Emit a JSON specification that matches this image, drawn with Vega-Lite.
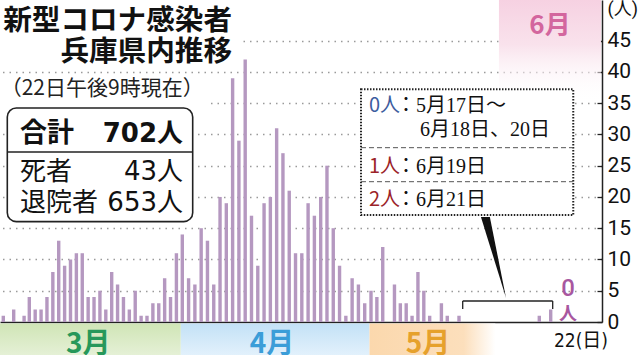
{
  "$schema": "https://vega.github.io/schema/vega-lite/v6.json",
  "width": 602,
  "height": 322,
  "autosize": {"type": "none"},
  "padding": {"left": 0, "top": 0, "right": 37, "bottom": 33},
  "background": "white",
  "config": {"view": {"stroke": null}, "font": "Noto Sans CJK JP"},
  "datasets": {
    "daily": [
      {"date": "2020-03-01", "cases": 1}, {"date": "2020-03-02", "cases": 0}, {"date": "2020-03-03", "cases": 2}, {"date": "2020-03-04", "cases": 0},
      {"date": "2020-03-05", "cases": 1}, {"date": "2020-03-06", "cases": 4}, {"date": "2020-03-07", "cases": 2}, {"date": "2020-03-08", "cases": 2},
      {"date": "2020-03-09", "cases": 4}, {"date": "2020-03-10", "cases": 8}, {"date": "2020-03-11", "cases": 13}, {"date": "2020-03-12", "cases": 9},
      {"date": "2020-03-13", "cases": 10}, {"date": "2020-03-14", "cases": 11}, {"date": "2020-03-15", "cases": 11}, {"date": "2020-03-16", "cases": 4},
      {"date": "2020-03-17", "cases": 4}, {"date": "2020-03-18", "cases": 5}, {"date": "2020-03-19", "cases": 2}, {"date": "2020-03-20", "cases": 8},
      {"date": "2020-03-21", "cases": 6}, {"date": "2020-03-22", "cases": 4}, {"date": "2020-03-23", "cases": 2}, {"date": "2020-03-24", "cases": 5},
      {"date": "2020-03-25", "cases": 1}, {"date": "2020-03-26", "cases": 1}, {"date": "2020-03-27", "cases": 3}, {"date": "2020-03-28", "cases": 3},
      {"date": "2020-03-29", "cases": 7}, {"date": "2020-03-30", "cases": 4}, {"date": "2020-03-31", "cases": 11},
      {"date": "2020-04-01", "cases": 14}, {"date": "2020-04-02", "cases": 7}, {"date": "2020-04-03", "cases": 6}, {"date": "2020-04-04", "cases": 15},
      {"date": "2020-04-05", "cases": 13}, {"date": "2020-04-06", "cases": 6}, {"date": "2020-04-07", "cases": 20}, {"date": "2020-04-08", "cases": 19},
      {"date": "2020-04-09", "cases": 39}, {"date": "2020-04-10", "cases": 29}, {"date": "2020-04-11", "cases": 42}, {"date": "2020-04-12", "cases": 17},
      {"date": "2020-04-13", "cases": 9}, {"date": "2020-04-14", "cases": 19}, {"date": "2020-04-15", "cases": 20}, {"date": "2020-04-16", "cases": 31},
      {"date": "2020-04-17", "cases": 27}, {"date": "2020-04-18", "cases": 21}, {"date": "2020-04-19", "cases": 11}, {"date": "2020-04-20", "cases": 11},
      {"date": "2020-04-21", "cases": 19}, {"date": "2020-04-22", "cases": 17}, {"date": "2020-04-23", "cases": 20}, {"date": "2020-04-24", "cases": 25},
      {"date": "2020-04-25", "cases": 15}, {"date": "2020-04-26", "cases": 9}, {"date": "2020-04-27", "cases": 1}, {"date": "2020-04-28", "cases": 7},
      {"date": "2020-04-29", "cases": 6}, {"date": "2020-04-30", "cases": 3},
      {"date": "2020-05-01", "cases": 5}, {"date": "2020-05-02", "cases": 4}, {"date": "2020-05-03", "cases": 12}, {"date": "2020-05-04", "cases": 0},
      {"date": "2020-05-05", "cases": 6}, {"date": "2020-05-06", "cases": 3}, {"date": "2020-05-07", "cases": 3}, {"date": "2020-05-08", "cases": 1},
      {"date": "2020-05-09", "cases": 8}, {"date": "2020-05-10", "cases": 5}, {"date": "2020-05-11", "cases": 1}, {"date": "2020-05-12", "cases": 0},
      {"date": "2020-05-13", "cases": 3}, {"date": "2020-05-14", "cases": 1}, {"date": "2020-05-15", "cases": 0}, {"date": "2020-05-16", "cases": 1},
      {"date": "2020-05-17", "cases": 0}, {"date": "2020-05-18", "cases": 0}, {"date": "2020-05-19", "cases": 0}, {"date": "2020-05-20", "cases": 0},
      {"date": "2020-05-21", "cases": 0}, {"date": "2020-05-22", "cases": 0}, {"date": "2020-05-23", "cases": 0}, {"date": "2020-05-24", "cases": 0},
      {"date": "2020-05-25", "cases": 0}, {"date": "2020-05-26", "cases": 0}, {"date": "2020-05-27", "cases": 0}, {"date": "2020-05-28", "cases": 0},
      {"date": "2020-05-29", "cases": 0}, {"date": "2020-05-30", "cases": 0}, {"date": "2020-05-31", "cases": 0},
      {"date": "2020-06-01", "cases": 0}, {"date": "2020-06-02", "cases": 0}, {"date": "2020-06-03", "cases": 0}, {"date": "2020-06-04", "cases": 0},
      {"date": "2020-06-05", "cases": 0}, {"date": "2020-06-06", "cases": 0}, {"date": "2020-06-07", "cases": 0}, {"date": "2020-06-08", "cases": 0},
      {"date": "2020-06-09", "cases": 0}, {"date": "2020-06-10", "cases": 0}, {"date": "2020-06-11", "cases": 0}, {"date": "2020-06-12", "cases": 0},
      {"date": "2020-06-13", "cases": 0}, {"date": "2020-06-14", "cases": 0}, {"date": "2020-06-15", "cases": 0}, {"date": "2020-06-16", "cases": 0},
      {"date": "2020-06-17", "cases": 0}, {"date": "2020-06-18", "cases": 0}, {"date": "2020-06-19", "cases": 1}, {"date": "2020-06-20", "cases": 0},
      {"date": "2020-06-21", "cases": 2}, {"date": "2020-06-22", "cases": 0}
    ],
    "months": [
      {"month": "3月", "start": "2020-02-20", "end": "2020-04-01", "mid": "2020-03-16T00:00:00Z"},
      {"month": "4月", "start": "2020-04-01", "end": "2020-05-01", "mid": "2020-04-15T06:00:00Z"},
      {"month": "5月", "start": "2020-05-01", "end": "2020-06-01", "mid": "2020-05-10T17:00:00Z"}
    ]
  },
  "layer": [
    {
      "data": {"name": "daily"},
      "mark": {"type": "bar", "size": 3.4, "color": "#b598c0"},
      "encoding": {
        "x": {
          "field": "date", "type": "temporal",
          "scale": {"type": "utc", "nice": false, "padding": 0,
            "domain": {"expr": "[utc(2020,1,29,8,46), utc(2020,2,1), utc(2020,2,6), utc(2020,3,1), utc(2020,4,1), utc(2020,4,16), utc(2020,5,19), utc(2020,5,22), utc(2020,5,30)]"},
            "range": [0, 3.3, 29.3, 182.3, 371, 459, 539.3, 556.4, 602]},
          "axis": {
            "title": null,
            "values": [{"year": 2020, "month": 6, "date": 22, "utc": true}],
            "labelExpr": "'22(日)'",
            "ticks": false, "grid": false,
            "domainColor": "#222", "domainWidth": 1.6,
            "labelFont": "DejaVu Sans Condensed, Liberation Sans Narrow, Roboto, Noto Sans CJK JP",
            "labelFontSize": 19, "labelColor": "#111", "labelOffset": -3,
            "labelAlign": "left", "labelBaseline": "top", "labelPadding": 9,
            "labelFlush": false, "labelOverlap": false
          }
        },
        "y": {
          "field": "cases", "type": "quantitative",
          "scale": {"domain": [0, 51.5], "nice": false},
          "axis": {
            "title": null, "orient": "right",
            "values": [0, 5, 10, 15, 20, 25, 30, 35, 40, 45, 50],
            "tickCount": 30,
            "labelExpr": "datum.value == 50 ? '(人)' : datum.label",
            "domainColor": "#222", "domainWidth": 1.5,
            "tickColor": "#222", "tickSize": -5, "tickWidth": 1.3,
            "tickOpacity": {"condition": {"test": "datum.value == 50", "value": 0}, "value": 1},
            "grid": true, "gridColor": "#9a9a9a", "gridDash": [1.5, 5], "gridWidth": 1.4,
            "gridOpacity": {"condition": {"test": "datum.value == 0 || datum.value == 50", "value": 0}, "value": 1},
            "labelFont": "Roboto, Noto Sans CJK JP",
            "labelFontSize": {"condition": {"test": "datum.value == 50", "value": 18}, "value": 21},
            "labelColor": "#111",
            "labelPadding": 10, "labelAlign": "left", "labelOverlap": false
          }
        }
      }
    },
    {
      "data": {"name": "months"},
      "transform": [{"filter": "datum.month == '3月'"}],
      "mark": {"type": "rect", "xOffset": -1.5, "x2Offset": -1.5,
        "fill": {"gradient": "linear", "x1": 0, "y1": 0, "x2": 0, "y2": 1, "stops": [{"offset": 0, "color": "#d0e5b6"}, {"offset": 1, "color": "#e6f1d8"}]}},
      "encoding": {
        "x": {"field": "start", "type": "temporal"},
        "x2": {"field": "end"},
        "y": {"datum": -0.25, "type": "quantitative"},
        "y2": {"datum": -5.6}
      }
    },
    {
      "data": {"name": "months"},
      "transform": [{"filter": "datum.month == '4月'"}],
      "mark": {"type": "rect", "xOffset": -1.5, "x2Offset": -1.5,
        "fill": {"gradient": "linear", "x1": 0, "y1": 0, "x2": 0, "y2": 1, "stops": [{"offset": 0, "color": "#c3e1f6"}, {"offset": 1, "color": "#e4f2fc"}]}},
      "encoding": {
        "x": {"field": "start", "type": "temporal"},
        "x2": {"field": "end"},
        "y": {"datum": -0.25, "type": "quantitative"},
        "y2": {"datum": -5.6}
      }
    },
    {
      "data": {"name": "months"},
      "transform": [{"filter": "datum.month == '5月'"}],
      "mark": {"type": "rect", "xOffset": -1.5, "x2Offset": -1.5,
        "fill": {"gradient": "linear", "x1": 0, "y1": 0, "x2": 1, "y2": 0, "stops": [{"offset": 0, "color": "#fbd8ad"}, {"offset": 0.75, "color": "#fcdfbc"}, {"offset": 1, "color": "#ffffff"}]}},
      "encoding": {
        "x": {"field": "start", "type": "temporal"},
        "x2": {"field": "end"},
        "y": {"datum": -0.25, "type": "quantitative"},
        "y2": {"datum": -5.6}
      }
    },
    {
      "data": {"name": "months"},
      "mark": {"type": "text", "fontSize": 28, "fontWeight": "bold", "font": "Noto Sans CJK JP", "align": "center", "baseline": "middle"},
      "encoding": {
        "x": {"field": "mid", "type": "temporal"},
        "y": {"datum": -3.7, "type": "quantitative"},
        "text": {"field": "month"},
        "color": {"field": "month", "type": "nominal", "scale": {"domain": ["3月", "4月", "5月"], "range": ["#27985a", "#3b9dd8", "#e6a12c"]}, "legend": null}
      }
    },
    {
      "data": {"values": [{}]},
      "mark": {"type": "rect",
        "fill": {"gradient": "linear", "x1": 0, "y1": 0, "x2": 0, "y2": 1, "stops": [{"offset": 0, "color": "#f6d0e1"}, {"offset": 0.45, "color": "#f9e2ec"}, {"offset": 1, "color": "rgba(255,255,255,0)"}]}},
      "encoding": {
        "x": {"datum": {"year": 2020, "month": 6, "date": 1, "hours": 22, "utc": true}, "type": "temporal"},
        "x2": {"datum": {"year": 2020, "month": 6, "date": 29, "hours": 19, "minutes": 40, "utc": true}},
        "y": {"datum": 52, "type": "quantitative"},
        "y2": {"datum": 35}
      }
    },
    {
      "data": {"values": [{}]},
      "mark": {"type": "rect", "fill": "white"},
      "encoding": {
        "x": {"datum": {"year": 2020, "month": 2, "date": 20, "utc": true}, "type": "temporal"},
        "x2": {"datum": {"year": 2020, "month": 4, "date": 10, "hours": 4, "utc": true}},
        "y": {"datum": 52, "type": "quantitative"},
        "y2": {"datum": 41.6}
      }
    },
    {
      "data": {"values": [{}]},
      "mark": {"type": "rect", "fill": "white"},
      "encoding": {
        "x": {"datum": {"year": 2020, "month": 2, "date": 20, "utc": true}, "type": "temporal"},
        "x2": {"datum": {"year": 2020, "month": 4, "date": 5, "hours": 2, "minutes": 10, "utc": true}},
        "y": {"datum": 39.6, "type": "quantitative"},
        "y2": {"datum": 34.4}
      }
    },
    {
      "data": {"values": [{}]},
      "mark": {"type": "text", "fontSize": 28.6, "fontWeight": "bold", "font": "Noto Sans CJK JP", "align": "right", "baseline": "middle", "lineHeight": 31.5, "color": "#111"},
      "encoding": {
        "x": {"datum": {"year": 2020, "month": 4, "date": 8, "hours": 21, "minutes": 40, "utc": true}, "type": "temporal"},
        "y": {"datum": 48.22, "type": "quantitative"},
        "text": {"value": ["新型コロナ感染者", "兵庫県内推移"]}
      }
    },
    {
      "data": {"values": [{}]},
      "mark": {"type": "text", "fontSize": 21, "font": "Noto Sans CJK JP", "align": "left", "baseline": "middle", "color": "#222"},
      "encoding": {
        "x": {"datum": {"year": 2020, "month": 2, "date": 29, "hours": 12, "utc": true}, "type": "temporal"},
        "y": {"datum": 37.19, "type": "quantitative"},
        "text": {"value": "（22日午後9時現在）"}
      }
    },
    {
      "data": {"values": [{}]},
      "mark": {"type": "rect", "fill": "white", "stroke": "#222", "strokeWidth": 1.6, "cornerRadius": 9},
      "encoding": {
        "x": {"datum": {"year": 2020, "month": 3, "date": 1, "hours": 18, "minutes": 28, "utc": true}, "type": "temporal"},
        "x2": {"datum": {"year": 2020, "month": 4, "date": 2, "hours": 15, "minutes": 40, "utc": true}},
        "y": {"datum": 34.23, "type": "quantitative"},
        "y2": {"datum": 16.05}
      }
    },
    {
      "data": {"values": [{}]},
      "mark": {"type": "rule", "stroke": "#222", "strokeWidth": 1.4},
      "encoding": {
        "x": {"datum": {"year": 2020, "month": 3, "date": 1, "hours": 18, "minutes": 28, "utc": true}, "type": "temporal"},
        "x2": {"datum": {"year": 2020, "month": 4, "date": 2, "hours": 15, "minutes": 40, "utc": true}},
        "y": {"datum": 27.19, "type": "quantitative"}
      }
    },
    {
      "data": {"values": [{}]},
      "mark": {"type": "text", "fontSize": 27, "fontWeight": "bold", "font": "Noto Sans CJK JP", "align": "left", "baseline": "middle", "color": "#111"},
      "encoding": {
        "x": {"datum": {"year": 2020, "month": 3, "date": 4, "hours": 5, "utc": true}, "type": "temporal"},
        "y": {"datum": 29.99, "type": "quantitative"},
        "text": {"value": "合計"}
      }
    },
    {
      "data": {"values": [{}]},
      "mark": {"type": "text", "fontSize": 26, "fontWeight": "bold", "font": "DejaVu Sans, Noto Sans CJK JP", "align": "right", "baseline": "middle", "color": "#111"},
      "encoding": {
        "x": {"datum": {"year": 2020, "month": 4, "date": 1, "hours": 2, "minutes": 40, "utc": true}, "type": "temporal"},
        "y": {"datum": 29.99, "type": "quantitative"},
        "text": {"value": "702人"}
      }
    },
    {
      "data": {"values": [{}]},
      "mark": {"type": "text", "fontSize": 26, "font": "Noto Sans CJK JP", "align": "left", "baseline": "middle", "lineHeight": 31, "color": "#111"},
      "encoding": {
        "x": {"datum": {"year": 2020, "month": 3, "date": 4, "hours": 5, "utc": true}, "type": "temporal"},
        "y": {"datum": 23.99, "type": "quantitative"},
        "text": {"value": ["死者", "退院者"]}
      }
    },
    {
      "data": {"values": [{}]},
      "mark": {"type": "text", "fontSize": 26, "font": "DejaVu Sans, Noto Sans CJK JP", "align": "right", "baseline": "middle", "lineHeight": 31, "color": "#111"},
      "encoding": {
        "x": {"datum": {"year": 2020, "month": 4, "date": 1, "hours": 2, "minutes": 40, "utc": true}, "type": "temporal"},
        "y": {"datum": 23.99, "type": "quantitative"},
        "text": {"value": ["43人", "653人"]}
      }
    },
    {
      "data": {"values": [{}]},
      "mark": {"type": "rect", "fill": "white", "stroke": "#222", "strokeWidth": 2, "strokeDash": [1.5, 1.5]},
      "encoding": {
        "x": {"datum": {"year": 2020, "month": 4, "date": 29, "hours": 9, "minutes": 50, "utc": true}, "type": "temporal"},
        "x2": {"datum": {"year": 2020, "month": 6, "date": 24, "hours": 23, "utc": true}},
        "y": {"datum": 37.22, "type": "quantitative"},
        "y2": {"datum": 17.11}
      }
    },
    {
      "data": {"values": [{"y": 27.88}, {"y": 22.44}]},
      "mark": {"type": "rule", "stroke": "#555", "strokeWidth": 1, "strokeDash": [5, 3]},
      "encoding": {
        "x": {"datum": {"year": 2020, "month": 4, "date": 29, "hours": 9, "minutes": 50, "utc": true}, "type": "temporal"},
        "x2": {"datum": {"year": 2020, "month": 6, "date": 24, "hours": 23, "utc": true}},
        "y": {"field": "y", "type": "quantitative"}
      }
    },
    {
      "data": {"values": [{}]},
      "mark": {"type": "text", "fontSize": 20, "font": "Noto Sans CJK JP", "align": "left", "baseline": "middle", "color": "#3d5c9e"},
      "encoding": {
        "x": {"datum": {"year": 2020, "month": 4, "date": 30, "hours": 16, "minutes": 20, "utc": true}, "type": "temporal"},
        "y": {"datum": 34.47, "type": "quantitative"},
        "text": {"value": "0人"}
      }
    },
    {
      "data": {"values": [{}]},
      "mark": {"type": "text", "fontSize": 20, "font": "Noto Sans CJK JP", "align": "left", "baseline": "middle", "lineHeight": 33, "color": "#9b2328"},
      "encoding": {
        "x": {"datum": {"year": 2020, "month": 4, "date": 30, "hours": 16, "minutes": 20, "utc": true}, "type": "temporal"},
        "y": {"datum": 24.87, "type": "quantitative"},
        "text": {"value": ["1人", "2人"]}
      }
    },
    {
      "data": {"values": [{}]},
      "mark": {"type": "text", "fontSize": 20, "font": "Liberation Serif, Noto Sans CJK JP", "align": "left", "baseline": "middle", "color": "#111"},
      "encoding": {
        "x": {"datum": {"year": 2020, "month": 5, "date": 5, "hours": 6, "minutes": 15, "utc": true}, "type": "temporal"},
        "y": {"datum": 34.47, "type": "quantitative"},
        "text": {"value": "：5月17日～"}
      }
    },
    {
      "data": {"values": [{}]},
      "mark": {"type": "text", "fontSize": 20, "font": "Liberation Serif, Noto Sans CJK JP", "align": "left", "baseline": "middle", "color": "#111"},
      "encoding": {
        "x": {"datum": {"year": 2020, "month": 5, "date": 9, "hours": 8, "minutes": 25, "utc": true}, "type": "temporal"},
        "y": {"datum": 30.63, "type": "quantitative"},
        "text": {"value": "6月18日、20日"}
      }
    },
    {
      "data": {"values": [{}]},
      "mark": {"type": "text", "fontSize": 20, "font": "Liberation Serif, Noto Sans CJK JP", "align": "left", "baseline": "middle", "lineHeight": 33, "color": "#111"},
      "encoding": {
        "x": {"datum": {"year": 2020, "month": 5, "date": 5, "hours": 6, "minutes": 15, "utc": true}, "type": "temporal"},
        "y": {"datum": 24.87, "type": "quantitative"},
        "text": {"value": ["：6月19日", "：6月21日"]}
      }
    },
    {
      "data": {"values": [{}]},
      "mark": {"type": "point", "shape": "M-0.31,-1 L-0.09,-1 L0.31,1 Z", "filled": true, "size": 6561, "color": "#111", "opacity": 1},
      "encoding": {
        "x": {"datum": {"year": 2020, "month": 5, "date": 30, "hours": 14, "minutes": 35, "utc": true}, "type": "temporal"},
        "y": {"datum": 10.32, "type": "quantitative"}
      }
    },
    {
      "data": {"values": [{}]},
      "mark": {"type": "rule", "stroke": "#222", "strokeWidth": 1.3},
      "encoding": {
        "x": {"datum": {"year": 2020, "month": 5, "date": 17, "hours": 13, "minutes": 40, "utc": true}, "type": "temporal"},
        "x2": {"datum": {"year": 2020, "month": 6, "date": 21, "hours": 8, "minutes": 25, "utc": true}},
        "y": {"datum": 3.36, "type": "quantitative"}
      }
    },
    {
      "data": {"values": [{"leg": "2020-05-17T13:40:00Z"}, {"leg": "2020-06-21T08:25:00Z"}]},
      "mark": {"type": "rule", "stroke": "#222", "strokeWidth": 1.3},
      "encoding": {
        "x": {"field": "leg", "type": "temporal"},
        "y": {"datum": 3.36, "type": "quantitative"},
        "y2": {"datum": 2.08}
      }
    },
    {
      "data": {"values": [{}]},
      "mark": {"type": "text", "fontSize": 26, "fontWeight": "bold", "font": "Noto Sans CJK JP", "align": "center", "baseline": "middle", "color": "#d3669e"},
      "encoding": {
        "x": {"datum": {"year": 2020, "month": 6, "date": 20, "hours": 21, "utc": true}, "type": "temporal"},
        "y": {"datum": 47.42, "type": "quantitative"},
        "text": {"value": "6月"}
      }
    },
    {
      "data": {"name": "daily"},
      "transform": [{"filter": {"field": "date", "equal": {"year": 2020, "month": 6, "date": 22, "utc": true}}}],
      "mark": {"type": "text", "fontSize": 24, "font": "Roboto", "fontWeight": 500, "align": "center", "baseline": "middle", "dx": 11.6, "dy": -33.5, "color": "#a8579f"},
      "encoding": {
        "x": {"field": "date", "type": "temporal"},
        "y": {"field": "cases", "type": "quantitative"},
        "text": {"field": "cases", "type": "quantitative"}
      }
    },
    {
      "data": {"name": "daily"},
      "transform": [{"filter": {"field": "date", "equal": {"year": 2020, "month": 6, "date": 22, "utc": true}}}],
      "mark": {"type": "text", "fontSize": 18, "font": "Noto Sans CJK JP", "fontWeight": "bold", "align": "center", "baseline": "middle", "dx": 11.6, "dy": -7, "color": "#a8579f"},
      "encoding": {
        "x": {"field": "date", "type": "temporal"},
        "y": {"field": "cases", "type": "quantitative"},
        "text": {"value": "人"}
      }
    }
  ]
}
